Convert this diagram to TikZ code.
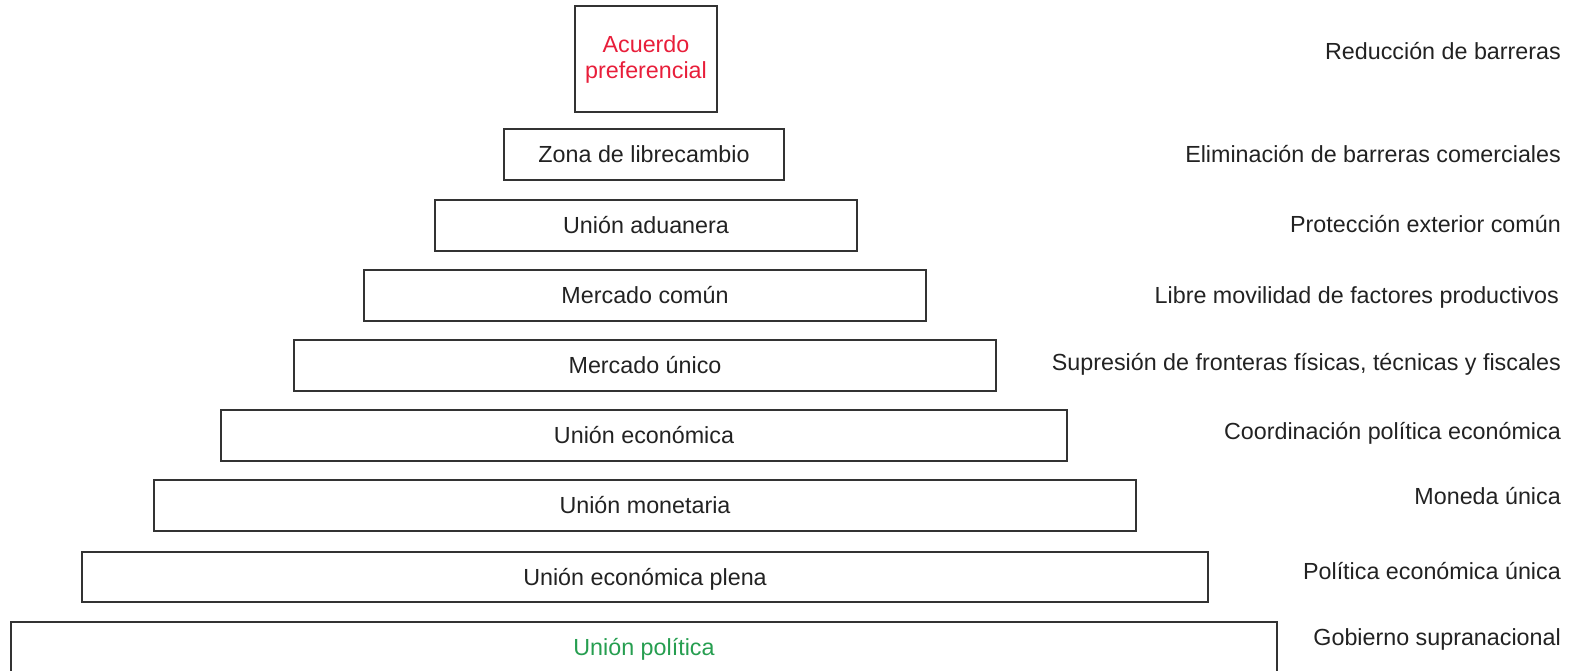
\documentclass[tikz,border=0pt]{standalone}
\usepackage{fontspec}
\setmainfont{Liberation Sans}
\definecolor{ink}{HTML}{222222}
\definecolor{edge}{HTML}{333333}
\definecolor{redtxt}{RGB}{232,30,58}
\definecolor{greentxt}{RGB}{38,158,80}
\begin{document}
\begin{tikzpicture}[x=1pt,y=-1pt,
  boxbase/.style={draw=edge, line width=1.8pt, rectangle, inner sep=0pt,
    font=\fontsize{23.3}{26}\selectfont, text=ink},
  lvl/.style={boxbase, text height=16.7pt, text depth=0pt, minimum height=51pt},
  lab/.style={anchor=base east, inner sep=0pt, font=\fontsize{23.3}{26}\selectfont, text=ink}]
\useasboundingbox (0,0) rectangle (1578,670);
\clip (0,0) rectangle (1578,670);

\node[boxbase, text=redtxt, align=center, minimum width=142pt, minimum height=106pt] (b1) at (646,59) {Acuerdo\\preferencial};
\node[lvl, minimum width=280pt]  (b2) at (644,154.5) {Zona de librecambio};
\node[lvl, minimum width=422pt]  (b3) at (646,225.5) {Unión aduanera};
\node[lvl, minimum width=562pt]  (b4) at (645,295.5) {Mercado común};
\node[lvl, minimum width=702pt]  (b5) at (645,365.5) {Mercado único};
\node[lvl, minimum width=846pt]  (b6) at (644,435.5) {Unión económica};
\node[lvl, minimum width=982pt]  (b7) at (645,505.5) {Unión monetaria};
\node[lvl, minimum width=1126pt, minimum height=50pt] (b8) at (645,577) {Unión económica plena};
\node[lvl, minimum width=1266pt, text=greentxt] (b9) at (644,647.5) {Unión política};

\node[lab] (l1) at (1561,59)  {Reducción de barreras};
\node[lab] (l2) at (1561,162) {Eliminación de barreras comerciales};
\node[lab] (l3) at (1561,232) {Protección exterior común};
\node[lab] (l4) at (1559,303) {Libre movilidad de factores productivos};
\node[lab] (l5) at (1561,370) {Supresión de fronteras físicas, técnicas y fiscales};
\node[lab] (l6) at (1561,439) {Coordinación política económica};
\node[lab] (l7) at (1561,504) {Moneda única};
\node[lab] (l8) at (1561,579) {Política económica única};
\node[lab] (l9) at (1561,645) {Gobierno supranacional};
\end{tikzpicture}
\end{document}
